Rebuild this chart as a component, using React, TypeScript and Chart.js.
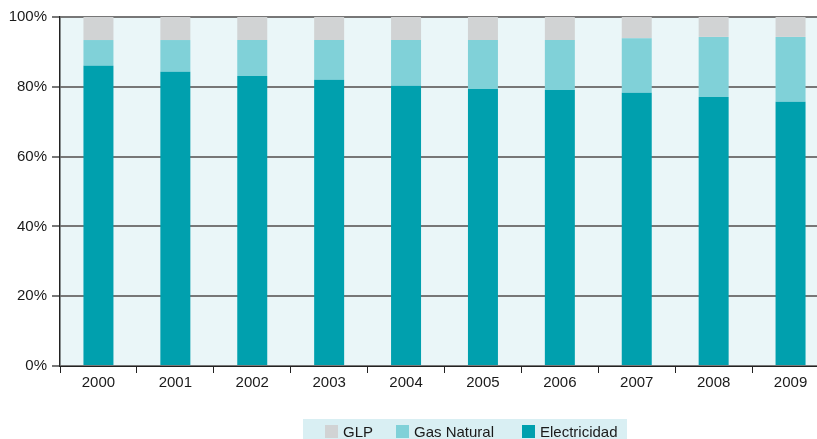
import React, { useEffect, useRef } from "react";
import { Chart, registerables } from "chart.js";

Chart.register(...registerables);

const years = ["2000", "2001", "2002", "2003", "2004", "2005", "2006", "2007", "2008", "2009"];
const electricidad = [86.0, 84.3, 83.1, 82.0, 80.3, 79.4, 79.1, 78.3, 77.1, 75.7];
const gasNatural = [7.4, 9.1, 10.3, 11.4, 13.1, 14.0, 14.3, 15.6, 17.2, 18.6];
const glp = [6.6, 6.6, 6.6, 6.6, 6.6, 6.6, 6.6, 6.1, 5.7, 5.7];
const yTicks = [0, 20, 40, 60, 80, 100];
const legendOrder = ["GLP", "Gas Natural", "Electricidad"];

const FONT = "Liberation Sans, Arial, sans-serif";
const CANVAS_W = 829;
const VIEW_W = 817;
const H = 439;

const bgPlugin = {
  id: "bgPlugin",
  beforeDraw(chart: any) {
    const { ctx, chartArea } = chart;
    ctx.save();
    ctx.fillStyle = "#EAF6F8";
    ctx.fillRect(chartArea.left, chartArea.top, chartArea.right - chartArea.left, chartArea.bottom - chartArea.top);
    ctx.restore();
  },
  afterDraw(chart: any) {
    const { ctx } = chart;
    const datasets = chart.data.datasets;
    ctx.save();
    ctx.font = `15px ${FONT}`;
    const cy = 431.5;
    const box = 13;
    const boxX = [325, 396, 522];
    ctx.fillStyle = "#D9EFF3";
    ctx.fillRect(303, 419, 324, 20);
    ctx.textBaseline = "middle";
    legendOrder.forEach((name, i) => {
      const ds = datasets.find((d: any) => d.label === name);
      ctx.fillStyle = ds.backgroundColor;
      ctx.fillRect(boxX[i], cy - box / 2, box, box);
      ctx.fillStyle = "#1a1a1a";
      ctx.fillText(name, boxX[i] + box + 5, cy + 1);
    });
    ctx.restore();
  },
};

export default function App() {
  const ref = useRef<HTMLCanvasElement>(null);
  useEffect(() => {
    document.body.style.margin = "0";
    const chart = new Chart(ref.current!, {
      type: "bar",
      data: {
        labels: years,
        datasets: [
          { label: "Electricidad", data: electricidad, backgroundColor: "#00A0AE", borderWidth: 0 },
          { label: "Gas Natural", data: gasNatural, backgroundColor: "#80D1D8", borderWidth: 0 },
          { label: "GLP", data: glp, backgroundColor: "#D1D3D4", borderWidth: 0 },
        ],
      },
      options: {
        animation: false,
        responsive: false,
        maintainAspectRatio: false,
        layout: { padding: { top: 17, right: 0, left: 0, bottom: 0 } },
        datasets: { bar: { categoryPercentage: 1, barPercentage: 0.39 } },
        scales: {
          x: {
            stacked: true,
            offset: true,
            grid: { drawOnChartArea: false, offset: true, color: "#222", tickLength: 7, tickWidth: 1 },
            border: { color: "#222", width: 1 },
            ticks: { color: "#1a1a1a", font: { family: FONT, size: 15 }, padding: 1, maxRotation: 0 },
            afterFit: (s: any) => { s.height = 73; },
          },
          y: {
            stacked: true,
            min: 0,
            max: 100,
            afterBuildTicks: (s: any) => { s.ticks = yTicks.map((v) => ({ value: v })); },
            grid: { color: "#777", lineWidth: 2, tickLength: 8, drawTicks: true },
            border: { color: "#222", width: 1.5 },
            ticks: {
              color: "#1a1a1a",
              font: { family: FONT, size: 15 },
              padding: 5,
              callback: (v: any) => v + "%",
            },
            afterFit: (s: any) => { s.width = 60; },
          },
        },
        plugins: {
          legend: { display: false },
          tooltip: { enabled: false },
        },
      },
      plugins: [bgPlugin],
    });
    return () => chart.destroy();
  }, []);
  return (
    <div style={{ position: "absolute", left: 0, top: 0, width: VIEW_W, height: H, overflow: "hidden" }}>
      <canvas ref={ref} width={CANVAS_W} height={H} style={{ width: CANVAS_W, height: H, display: "block" }} />
    </div>
  );
}
